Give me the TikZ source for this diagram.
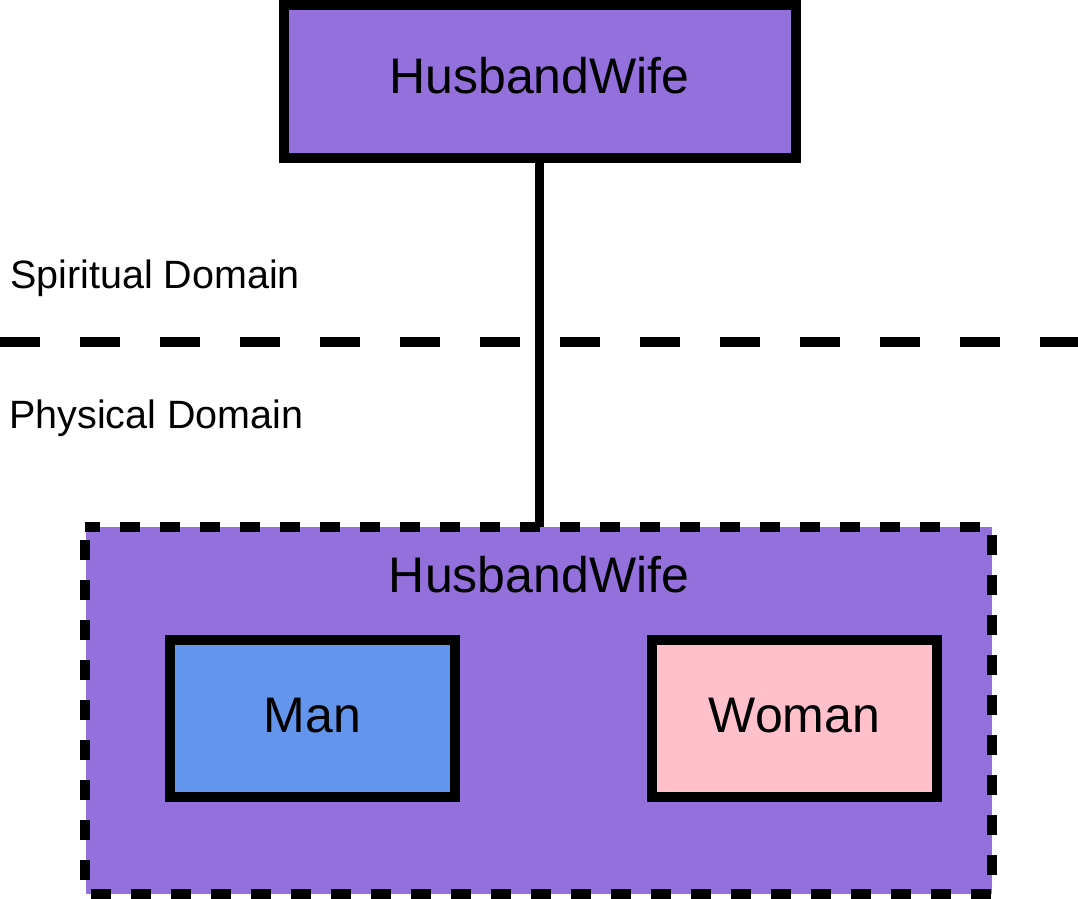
\documentclass[tikz,border=0pt]{standalone}
\usepackage{fontspec}
\setmainfont{Liberation Sans}
\definecolor{mpurple}{HTML}{9370DB}
\definecolor{cblue}{HTML}{6495ED}
\definecolor{lpink}{HTML}{FFC0CB}
\tikzset{
  boxline/.style={draw=black, line width=10pt},
  bigtext/.style={inner sep=0pt, anchor=base, font=\fontsize{50}{60}\selectfont},
  domtext/.style={inner sep=0pt, anchor=base west, font=\fontsize{39.5}{47}\selectfont},
}
\begin{document}
\begin{tikzpicture}[x=1pt,y=-1pt]
\useasboundingbox (0,0) rectangle (1078,898);
% bottom container
\path[fill=mpurple] (86,527) rectangle (992,894);
\draw[line width=10pt, dash pattern=on 20pt off 20pt, dash phase=27pt] (85,527) rectangle (992,894);
\coordinate (contop) at (539,527);
\node[bigtext] (conlabel) at (539,592) {HusbandWife};
% Man / Woman
\draw[boxline, fill=cblue] (170,640) rectangle (455,797);
\node[bigtext] (man) at (312.5,732) {Man};
\draw[boxline, fill=lpink] (652,640) rectangle (937,797);
\node[bigtext] (woman) at (794.5,732) {Woman};
% top box
\draw[boxline, fill=mpurple] (283.5,5) rectangle (796,158);
\coordinate (topbot) at (539,158);
\node[bigtext] (toplabel) at (539.5,93) {HusbandWife};
% domain separator
\coordinate (sepL) at (0,342);
\coordinate (sepR) at (1078,342);
\draw[line width=10pt, dash pattern=on 40pt off 40pt] (sepL) -- (sepR);
% connector
\draw[line width=9pt] (topbot) -- (contop);
% labels
\node[domtext] (spirit) at (10,288) {Spiritual Domain};
\node[domtext] (phys) at (9,428) {Physical Domain};
\end{tikzpicture}
\end{document}
